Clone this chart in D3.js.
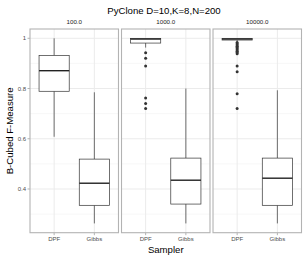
<!DOCTYPE html>
<html>
<head>
<meta charset="utf-8">
<script src="https://cdn.jsdelivr.net/npm/d3@7"></script>
<style>
  html, body { margin: 0; padding: 0; background: #fff; }
  svg { display: block; font-family: "Liberation Sans", Arial, sans-serif; }
</style>
</head>
<body>
<div id="chart"></div>
<script>
// data
const panels = ["100.0", "1000.0", "10000.0"];
const samplers = ["DPF", "Gibbs"];

// [lower whisker, q1, median, q3, upper whisker] per panel, per sampler
const dpfStats = [
  [0.608, 0.789, 0.871, 0.932, 1.0],
  [0.963, 0.981, 0.997, 0.999, 1.0],
  [0.986, 0.993, 0.997, 0.999, 1.0]
];
const gibbsStats = [
  [0.263, 0.335, 0.423, 0.519, 0.785],
  [0.263, 0.340, 0.435, 0.523, 0.800],
  [0.263, 0.335, 0.443, 0.523, 0.793]
];
const dpfOutliers = [
  [],
  [0.942, 0.921, 0.890, 0.762, 0.740, 0.720],
  [0.983, 0.978, 0.973, 0.968, 0.963, 0.958, 0.953, 0.948, 0.943, 0.938, 0.890, 0.867, 0.779, 0.720]
];
const gibbsOutliers = [[], [], []];

const yTicks = [0.4, 0.6, 0.8, 1.0];
const yTickLabels = ["0.4", "0.6", "0.8", "1"];
const yMinor = [0.3, 0.5, 0.7, 0.9];

const width = 308;
const height = 260;
const margin = { top: 29, right: 6.5, bottom: 27.3, left: 30 };

const svg = d3.select("#chart").append("svg")
  .attr("width", width)
  .attr("height", height);

const y = d3.scaleLinear()
  .domain([0.263 - 0.037, 1.0 + 0.037])
  .range([height - margin.bottom, margin.top]);

const px = d3.scaleBand()
  .domain(panels)
  .range([margin.left, width - margin.right])
  .paddingInner(0.033);

const bw = px.bandwidth();
const x = d3.scalePoint()
  .domain(samplers)
  .range([0, bw])
  .padding(0.6);
const step = bw / 2.2;
const boxW = step * 0.75;

const y0 = margin.top, y1 = height - margin.bottom;

// title
svg.append("text")
  .attr("x", 164)
  .attr("y", 14)
  .attr("text-anchor", "middle")
  .attr("font-size", 9.6)
  .attr("fill", "#000")
  .text("PyClone D=10,K=8,N=200");

// axis titles
svg.append("text")
  .attr("x", (margin.left + width - margin.right) / 2)
  .attr("y", 253)
  .attr("text-anchor", "middle")
  .attr("font-size", 9.6)
  .text("Sampler");

svg.append("text")
  .attr("transform", `translate(13, ${(y0 + y1) / 2}) rotate(-90)`)
  .attr("text-anchor", "middle")
  .attr("font-size", 9.6)
  .text("B-Cubed F-Measure");

// y axis labels + ticks (left of first panel)
yTicks.forEach((t, i) => {
  svg.append("line")
    .attr("x1", margin.left - 2.5).attr("x2", margin.left)
    .attr("y1", y(t)).attr("y2", y(t))
    .attr("stroke", "#7f7f7f").attr("stroke-width", 0.6);
  svg.append("text")
    .attr("x", margin.left - 4)
    .attr("y", y(t) + 2)
    .attr("text-anchor", "end")
    .attr("font-size", 6)
    .attr("fill", "#4d4d4d")
    .text(yTickLabels[i]);
});

panels.forEach((p, pi) => {
  const g = svg.append("g").attr("transform", `translate(${px(p)},0)`);

  // strip label
  g.append("text")
    .attr("x", bw / 2)
    .attr("y", 24)
    .attr("text-anchor", "middle")
    .attr("font-size", 6.2)
    .attr("fill", "#1a1a1a")
    .text(p);

  // grid
  yMinor.forEach(t => {
    g.append("line")
      .attr("x1", 0).attr("x2", bw)
      .attr("y1", y(t)).attr("y2", y(t))
      .attr("stroke", "#f2f2f2").attr("stroke-width", 0.6);
  });
  yTicks.forEach(t => {
    g.append("line")
      .attr("x1", 0).attr("x2", bw)
      .attr("y1", y(t)).attr("y2", y(t))
      .attr("stroke", "#ebebeb").attr("stroke-width", 1);
  });
  samplers.forEach(s => {
    g.append("line")
      .attr("x1", x(s)).attr("x2", x(s))
      .attr("y1", y0).attr("y2", y1)
      .attr("stroke", "#ebebeb").attr("stroke-width", 1);
  });

  // boxes
  const stats = [dpfStats[pi], gibbsStats[pi]];
  const outs = [dpfOutliers[pi], gibbsOutliers[pi]];
  samplers.forEach((s, si) => {
    const [lo, q1, med, q3, hi] = stats[si];
    const cx = x(s);
    g.append("line")
      .attr("x1", cx).attr("x2", cx)
      .attr("y1", y(hi)).attr("y2", y(q3))
      .attr("stroke", "#333").attr("stroke-width", 0.7);
    g.append("line")
      .attr("x1", cx).attr("x2", cx)
      .attr("y1", y(q1)).attr("y2", y(lo))
      .attr("stroke", "#333").attr("stroke-width", 0.7);
    g.append("rect")
      .attr("x", cx - boxW / 2)
      .attr("y", y(q3))
      .attr("width", boxW)
      .attr("height", Math.max(0.5, y(q1) - y(q3)))
      .attr("fill", "#fff")
      .attr("stroke", "#333")
      .attr("stroke-width", 0.7);
    g.append("line")
      .attr("x1", cx - boxW / 2).attr("x2", cx + boxW / 2)
      .attr("y1", y(med)).attr("y2", y(med))
      .attr("stroke", "#222").attr("stroke-width", 1.4);

    g.selectAll(null)
      .data(outs[si])
      .join("circle")
      .attr("cx", cx)
      .attr("cy", d => y(d))
      .attr("r", 1.5)
      .attr("fill", "#333");
  });

  // x ticks + labels
  samplers.forEach(s => {
    g.append("line")
      .attr("x1", x(s)).attr("x2", x(s))
      .attr("y1", y1).attr("y2", y1 + 2.5)
      .attr("stroke", "#7f7f7f").attr("stroke-width", 0.6);
    g.append("text")
      .attr("x", x(s))
      .attr("y", y1 + 8.5)
      .attr("text-anchor", "middle")
      .attr("font-size", 6)
      .attr("fill", "#4d4d4d")
      .text(s);
  });

  // panel border
  g.append("rect")
    .attr("x", 0).attr("y", y0)
    .attr("width", bw).attr("height", y1 - y0)
    .attr("fill", "none")
    .attr("stroke", "#b3b3b3")
    .attr("stroke-width", 1.1);
});
</script>
</body>
</html>
